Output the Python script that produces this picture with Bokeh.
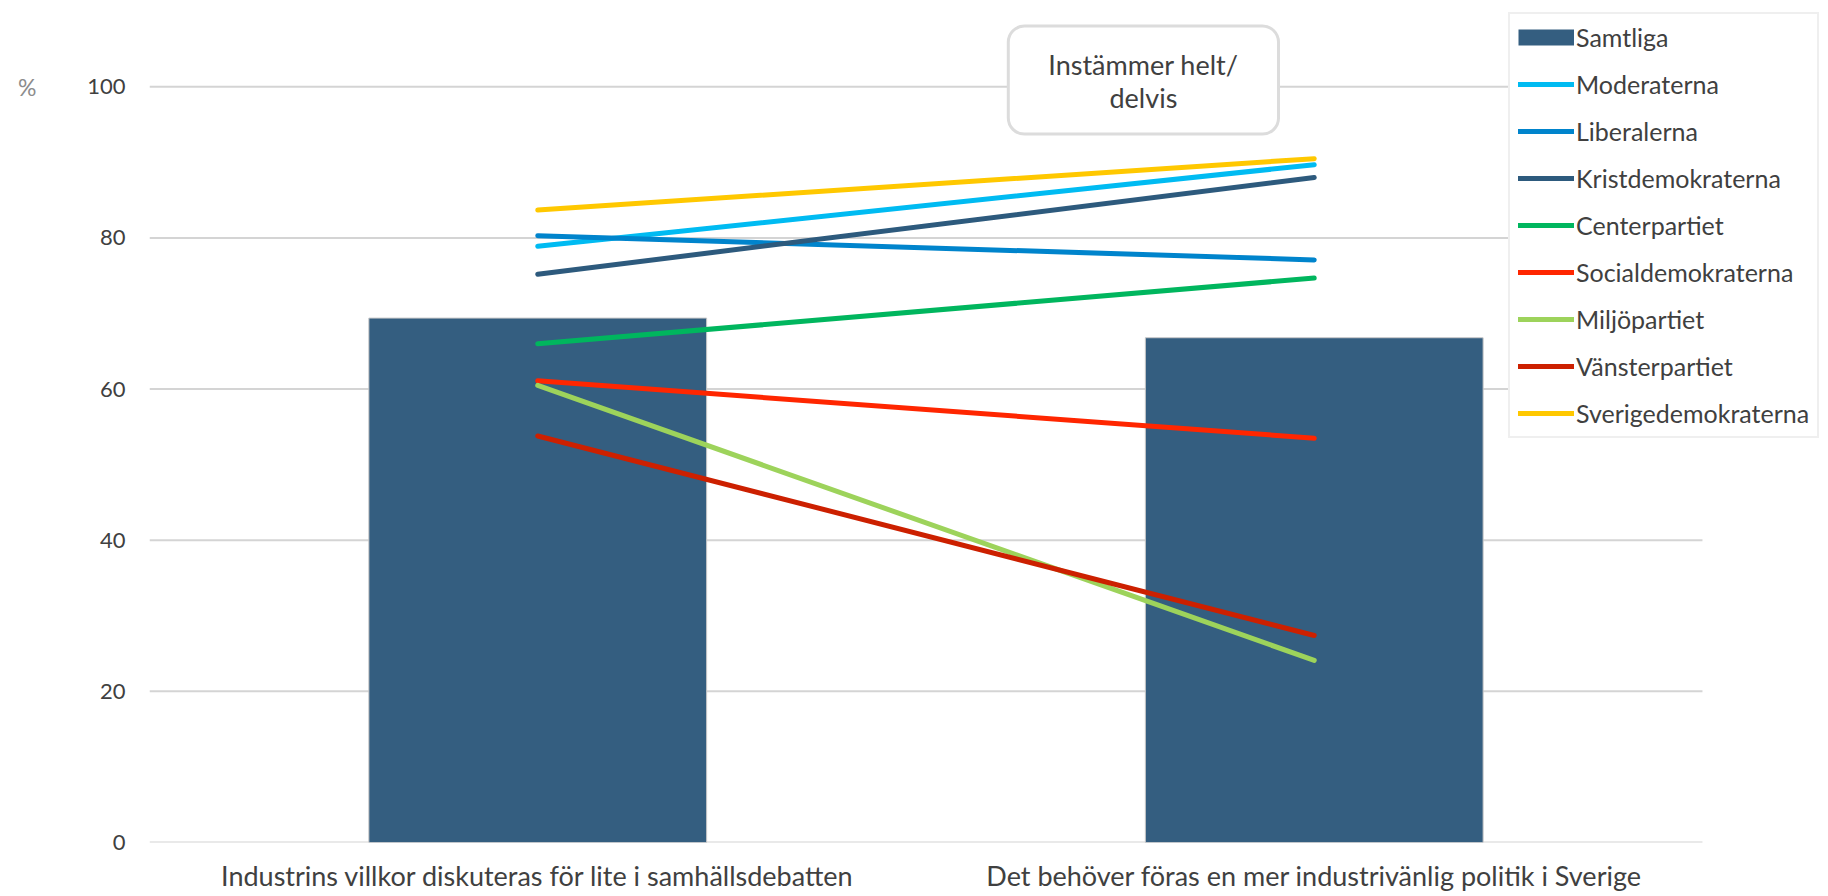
from bokeh.plotting import figure
from bokeh.models import Range1d, Legend, LegendItem, Label, FixedTicker, LinearAxis
from bokeh.embed import file_html
from bokeh.resources import INLINE

categories = ["Industrins villkor diskuteras för lite i samhällsdebatten",
              "Det behöver föras en mer industrivänlig politik i Sverige"]
samtliga = [69.4, 66.8]

parties = ["Moderaterna", "Liberalerna", "Kristdemokraterna", "Centerpartiet",
           "Socialdemokraterna", "Miljöpartiet", "Vänsterpartiet", "Sverigedemokraterna"]
moderaterna = [78.9, 89.7]
liberalerna = [80.3, 77.1]
kristdemokraterna = [75.2, 88.0]
centerpartiet = [66.0, 74.7]
socialdemokraterna = [61.1, 53.5]
miljopartiet = [60.5, 24.1]
vansterpartiet = [53.8, 27.4]
sverigedemokraterna = [83.7, 90.5]
party_values = [moderaterna, liberalerna, kristdemokraterna, centerpartiet,
                socialdemokraterna, miljopartiet, vansterpartiet, sverigedemokraterna]
party_colors = ["#00bbf2", "#0084cc", "#2d5a7d", "#00b65e",
                "#ff2600", "#9dd35b", "#cc2000", "#ffc800"]
y_ticks = [0, 20, 40, 60, 80, 100]

FONT = "Lato"
TXT = "#404040"
BAR = "#345e80"

# category positions on a numeric axis: centre of each category slot
xpos = [i + 0.5 for i in range(len(categories))]
ncat = len(categories)

W, H = 1828, 896
p = figure(width=W, height=H, x_range=Range1d(0, 2.1623), y_range=Range1d(0, 111.43),
           output_backend="svg", toolbar_location=None,
           min_border_left=149, min_border_right=0, min_border_top=0, min_border_bottom=54)
p.outline_line_color = None
p.background_fill_color = "white"
p.border_fill_color = "white"

# horizontal gridlines limited to the category area
p.segment(x0=[0] * len(y_ticks), x1=[ncat] * len(y_ticks), y0=y_ticks, y1=y_ticks,
          line_color="#d4d4d4", line_width=2)

bar = p.vbar(x=xpos, top=samtliga, width=0.435, fill_color=BAR,
             line_color="#c8c8c8", line_width=1)
renderers = []
for vals, col in zip(party_values, party_colors):
    r = p.line(x=xpos, y=vals, line_color=col, line_width=5, line_cap="round")
    renderers.append(r)

# legend swatch for the bar series (draws nothing in the plot itself)
bar_swatch = p.line(x=[xpos[0]], y=[float("nan")], line_color=BAR, line_width=16,
                    line_cap="butt")

p.xgrid.grid_line_color = None
p.ygrid.grid_line_color = None
p.yaxis.ticker = FixedTicker(ticks=y_ticks)
p.xaxis.ticker = FixedTicker(ticks=xpos)
p.xaxis.major_label_overrides = {x: c for x, c in zip(xpos, categories)}
for ax in (p.xaxis[0], p.yaxis[0]):
    ax.axis_line_color = None
    ax.major_tick_line_color = None
    ax.minor_tick_line_color = None
    ax.major_tick_out = 0
    ax.major_tick_in = 0
    ax.major_label_text_font = FONT
    ax.major_label_text_color = TXT
p.yaxis.major_label_text_font_size = "22px"
p.yaxis.major_label_standoff = 24
p.xaxis.major_label_text_font_size = "27px"
p.xaxis.major_label_standoff = 16

pct_axis = LinearAxis(ticker=FixedTicker(ticks=[100]), major_label_overrides={100: "%"},
                      axis_line_color=None, major_tick_line_color=None,
                      minor_tick_line_color=None, major_tick_out=0, major_tick_in=0,
                      major_label_text_font=FONT,
                      major_label_text_font_size="23px", major_label_text_color="#8c8c8c",
                      major_label_standoff=48)
p.add_layout(pct_axis, "left")

items = [LegendItem(label="Samtliga", renderers=[bar_swatch])]
for name, r in zip(parties, renderers):
    items.append(LegendItem(label=name, renderers=[r]))
legend = Legend(items=items, location=(1359, 404), orientation="vertical",
                label_text_font=FONT, label_text_font_size="25px", label_text_color=TXT,
                glyph_width=56, glyph_height=30, label_height=30, spacing=17,
                label_standoff=2, padding=8, margin=0,
                border_line_color="#e0e0e0", border_line_width=2,
                background_fill_color="white", background_fill_alpha=1)
p.add_layout(legend)

box = Label(x=1.28, y=100.9, text="Instämmer helt/\ndelvis", text_font=FONT,
            text_font_size="27px", text_color=TXT, text_align="center",
            text_baseline="middle", text_line_height=1.0,
            background_fill_color="white", border_line_color="#dcdcdc",
            border_line_width=3, border_radius=16,
            padding=dict(left=40, right=40, top=22, bottom=20))
p.add_layout(box)

open("out.html", "w").write(file_html(p, INLINE))
